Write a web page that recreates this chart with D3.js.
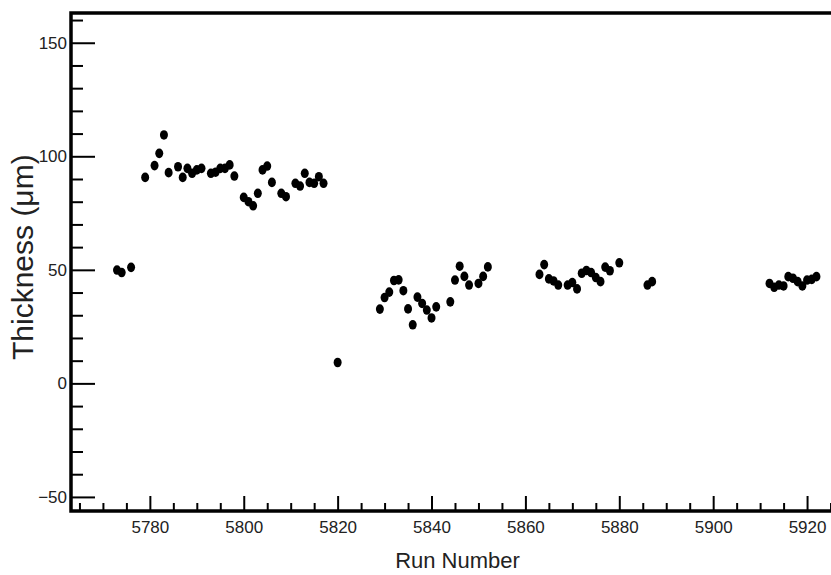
<!DOCTYPE html>
<html>
<head>
<meta charset="utf-8">
<script src="https://cdn.jsdelivr.net/npm/d3@7"></script>
<style>
  body { margin: 0; background: #fff; }
  text { font-family: "Liberation Sans", Arial, sans-serif; }
</style>
</head>
<body>
<div id="chart"></div>
<script>
var runs = [5773, 5774, 5776,
  5779, 5781, 5782, 5783, 5784, 5786, 5787, 5788, 5789, 5790, 5791,
  5793, 5794, 5795, 5796, 5797, 5798,
  5800, 5801, 5802, 5803, 5804, 5805, 5806, 5808, 5809,
  5811, 5812, 5813, 5814, 5815, 5816, 5817,
  5820,
  5829, 5830, 5831, 5832, 5833, 5834, 5835, 5836, 5837, 5838, 5839, 5840, 5841,
  5844, 5845, 5846, 5847, 5848, 5850, 5851, 5852,
  5863, 5864, 5865, 5866, 5867, 5869, 5870, 5871, 5872, 5873, 5874, 5875, 5876, 5877, 5878, 5880,
  5886, 5887,
  5912, 5913, 5914, 5915, 5916, 5917, 5918, 5919, 5920, 5921, 5922];
var thickness = [49.9, 48.8, 51.1,
  90.7, 95.9, 101.3, 109.4, 92.8, 95.4, 90.7, 94.7, 92.5, 94.0, 94.7,
  92.5, 93.0, 94.7, 94.7, 96.2, 91.3,
  81.9, 80.0, 78.2, 83.7, 94.0, 95.7, 88.5, 83.7, 82.2,
  88.1, 86.9, 92.5, 88.5, 88.1, 91.0, 88.1,
  9.2,
  32.7, 37.8, 40.2, 45.3, 45.6, 40.8, 32.8, 25.8, 38.0, 35.2, 32.3, 28.8, 33.7,
  35.9, 45.5, 51.6, 47.1, 43.3, 44.0, 47.1, 51.3,
  48.0, 52.3, 46.0, 45.1, 43.3, 43.3, 44.4, 41.6, 48.5, 49.7, 48.8, 46.6, 44.8, 51.2, 49.6, 53.1,
  43.3, 44.8,
  44.0, 42.3, 43.3, 42.9, 47.0, 46.3, 44.8, 42.9, 45.5, 45.8, 47.0];

var xMajor = [5780, 5800, 5820, 5840, 5860, 5880, 5900, 5920];
var yMajor = [-50, 0, 50, 100, 150];

var width = 831, height = 575;
var plotLeft = 71, plotTop = 13, plotBottom = 511, plotRight = 854;

var svg = d3.select('#chart').append('svg')
  .attr('width', width)
  .attr('height', height);

var x = d3.scaleLinear().domain([5763.2, 5930]).range([plotLeft, plotRight]);
var y = d3.scaleLinear().domain([-56.2, 163.1]).range([plotBottom, plotTop]);

var xMinor = d3.range(5765, 5930, 5).filter(function(v) { return v % 20 !== 0; });
var yMinor = d3.range(-50, 161, 10).filter(function(v) { return v % 50 !== 0; });

// minor ticks first, then majors with labels
svg.append('g')
  .attr('transform', 'translate(0,' + plotBottom + ')')
  .call(d3.axisBottom(x).tickValues(xMinor).tickSizeInner(-8).tickSizeOuter(0).tickFormat(''));
svg.append('g')
  .attr('transform', 'translate(' + plotLeft + ',0)')
  .call(d3.axisLeft(y).tickValues(yMinor).tickSizeInner(-12).tickSizeOuter(0).tickFormat(''));

svg.append('g')
  .attr('transform', 'translate(0,' + plotBottom + ')')
  .call(d3.axisBottom(x).tickValues(xMajor).tickSizeInner(-15).tickSizeOuter(0).tickPadding(9.6)
    .tickFormat(d3.format('d')));
svg.append('g')
  .attr('transform', 'translate(' + plotLeft + ',0)')
  .call(d3.axisLeft(y).tickValues(yMajor).tickSizeInner(-24).tickSizeOuter(0).tickPadding(4)
    .tickFormat(function(d) { return d < 0 ? '\u2212' + Math.abs(d) : d; }));

svg.selectAll('.domain').remove();
svg.selectAll('.tick line').attr('stroke', '#000').attr('stroke-width', 2);
svg.selectAll('.tick text')
  .style('font-size', '17px')
  .style('font-family', '"Liberation Sans", Arial, sans-serif')
  .attr('fill', '#222');

// frame
svg.append('rect')
  .attr('x', plotLeft)
  .attr('y', plotTop)
  .attr('width', plotRight - plotLeft)
  .attr('height', plotBottom - plotTop)
  .attr('fill', 'none')
  .attr('stroke', '#000')
  .attr('stroke-width', 3.5);

// markers
svg.append('g')
  .selectAll('ellipse')
  .data(runs)
  .enter().append('ellipse')
  .attr('cx', function(d) { return x(d); })
  .attr('cy', function(d, i) { return y(thickness[i]); })
  .attr('rx', 4)
  .attr('ry', 4.8)
  .attr('fill', '#000');

// axis titles
svg.append('text')
  .attr('x', 457.5)
  .attr('y', 568)
  .attr('text-anchor', 'middle')
  .style('font-size', '22px')
  .attr('fill', '#222')
  .text('Run Number');

svg.append('text')
  .attr('transform', 'translate(33,360) rotate(-90)')
  .attr('text-anchor', 'start')
  .style('font-size', '30px')
  .attr('fill', '#222')
  .text('Thickness (\u03bcm)');
</script>
</body>
</html>
